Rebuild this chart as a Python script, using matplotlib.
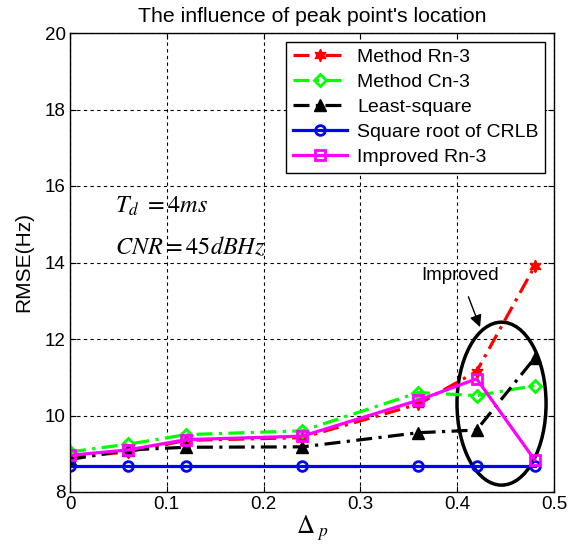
import numpy as np
import matplotlib
matplotlib.use('Agg')
import matplotlib.pyplot as plt
from matplotlib.patches import Ellipse

plt.rcParams['font.family'] = ['Liberation Sans', 'DejaVu Sans']
plt.rcParams['mathtext.fontset'] = 'stix'

# data
delta_p = [0, 0.06, 0.12, 0.24, 0.36, 0.42, 0.48]
rn3 = [8.9, 9.05, 9.35, 9.42, 10.3, 11.15, 13.9]
cn3 = [9.05, 9.25, 9.5, 9.6, 10.6, 10.52, 10.78]
lsq = [8.85, 9.1, 9.17, 9.18, 9.55, 9.62, 11.5]
crlb = [8.68, 8.68, 8.68, 8.68, 8.68, 8.68, 8.68]
imp_rn3 = [8.96, 9.1, 9.37, 9.46, 10.4, 10.96, 8.84]

labels = ['Method Rn-3', 'Method Cn-3', 'Least-square',
          'Square root of CRLB', 'Improved Rn-3']

fig = plt.figure(figsize=(5.68, 5.49), dpi=100)
ax = fig.add_axes([70/568, 1-492/549, 484/568, 459/549])

dashdot = (0, (5, 2, 1, 2))
ax.plot(delta_p, rn3, color='red', ls=dashdot, lw=2.3, marker=(6, 1, 0),
        ms=9, mfc='red', mec='red', label=labels[0])
ax.plot(delta_p, cn3, color='#00ff00', ls=dashdot, lw=2.3, marker='D',
        ms=6.5, mfc='none', mec='#00ff00', mew=2, label=labels[1])
ax.plot(delta_p, lsq, color='black', ls=dashdot, lw=2.3, marker='^',
        ms=9, mfc='black', mec='black', label=labels[2])
ax.plot(delta_p, crlb, color='blue', ls='-', lw=2.3, marker='o',
        ms=7, mfc='none', mec='blue', mew=2, label=labels[3])
ax.plot(delta_p, imp_rn3, color='magenta', ls='-', lw=2.3, marker='s',
        ms=7.5, mfc='none', mec='magenta', mew=2, label=labels[4])

ax.set_xlim(0, 0.5)
ax.set_ylim(8, 20)
ax.set_xticks([0, 0.1, 0.2, 0.3, 0.4, 0.5])
ax.set_xticklabels(['0', '0.1', '0.2', '0.3', '0.4', '0.5'])
ax.set_yticks([8, 10, 12, 14, 16, 18, 20])
ax.tick_params(labelsize=13.5, direction='in', length=4, top=True, right=True,
               pad=3)
ax.grid(True, color='black', ls=(0, (3, 3)), lw=0.8)
for s in ax.spines.values():
    s.set_linewidth(1)

ax.set_title("The influence of peak point's location", fontsize=15.3, pad=8)
ax.set_ylabel('RMSE(Hz)', fontsize=15, labelpad=8)
ax.set_xlabel(r'$\Delta_{\ p}$', fontsize=18, labelpad=0)

ax.text(0.0465, 15.47, r'$T_d\ =4ms$', fontsize=17.5, va='center')
ax.text(0.046, 14.4, r'$CNR=45dBHz$', fontsize=17.5, va='center')

ell = Ellipse((0.4458, 10.31), 0.092, 4.26, fill=False, ec='black', lw=2.5)
ax.add_patch(ell)
ax.annotate('Improved', xy=(0.4236, 12.31), xytext=(0.403, 13.67),
            fontsize=13.4, ha='center', va='center',
            arrowprops=dict(arrowstyle='-|>', color='black', lw=1,
                            mutation_scale=18, shrinkA=8, shrinkB=0))

leg = ax.legend(loc='upper right', fontsize=14, frameon=True, fancybox=False,
                edgecolor='black', framealpha=1, handlelength=2.8,
                borderaxespad=0.45, labelspacing=0.38, borderpad=0.35,
                handletextpad=0.5)
leg.get_frame().set_linewidth(1)

fig.savefig('out.png', dpi=100)
